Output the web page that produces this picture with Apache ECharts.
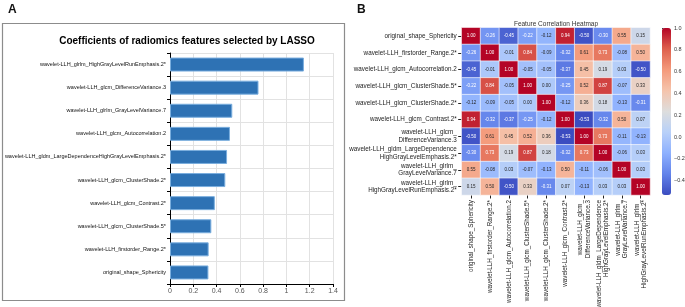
<!DOCTYPE html>
<html><head><meta charset="utf-8">
<script src="https://cdn.jsdelivr.net/npm/echarts@6.0.0/dist/echarts.min.js"></script>
<style>html,body{margin:0;padding:0;background:#fff}#c{width:685px;height:307px}</style>
</head><body><div id="c"></div>
<script>
// ---- Panel A data ----
const barFeatures = [
  'wavelet-LLH_glrlm_HighGrayLevelRunEmphasis.2*',
  'wavelet-LLH_glcm_DifferenceVariance.3',
  'wavelet-LLH_glrlm_GrayLevelVariance.7',
  'wavelet-LLH_glcm_Autocorrelation.2',
  'wavelet-LLH_gldm_LargeDependenceHighGrayLevelEmphasis.2*',
  'wavelet-LLH_glcm_ClusterShade.2*',
  'wavelet-LLH_glcm_Contrast.2*',
  'wavelet-LLH_glcm_ClusterShade.5*',
  'wavelet-LLH_firstorder_Range.2*',
  'original_shape_Sphericity'
];
const barValues = [1.15, 0.76, 0.535, 0.515, 0.49, 0.475, 0.385, 0.355, 0.332, 0.33];
const barTicks = [0, 0.2, 0.4, 0.6, 0.8, 1, 1.2, 1.4];

// ---- Panel B data ----
const heatLabels = [
  'original_shape_Sphericity',
  'wavelet-LLH_firstorder_Range.2*',
  'wavelet-LLH_glcm_Autocorrelation.2',
  'wavelet-LLH_glcm_ClusterShade.5*',
  'wavelet-LLH_glcm_ClusterShade.2*',
  'wavelet-LLH_glcm_Contrast.2*',
  'wavelet-LLH_glcm_\nDifferenceVariance.3',
  'wavelet-LLH_gldm_LargeDependence\nHighGrayLevelEmphasis.2*',
  'wavelet-LLH_glrlm_\nGrayLevelVariance.7',
  'wavelet-LLH_glrlm_\nHighGrayLevelRunEmphasis.2*'
];
const corrMatrix = [
  [ 1.00, -0.26, -0.45, -0.22, -0.12,  0.94, -0.50, -0.30,  0.55,  0.15],
  [-0.26,  1.00, -0.01,  0.84, -0.09, -0.32,  0.61,  0.73, -0.08,  0.50],
  [-0.45, -0.01,  1.00, -0.05, -0.05, -0.37,  0.45,  0.19,  0.03, -0.50],
  [-0.22,  0.84, -0.05,  1.00,  0.00, -0.25,  0.52,  0.87, -0.07,  0.33],
  [-0.12, -0.09, -0.05,  0.00,  1.00, -0.12,  0.36,  0.18, -0.13, -0.31],
  [ 0.94, -0.32, -0.37, -0.25, -0.12,  1.00, -0.53, -0.32,  0.50,  0.07],
  [-0.50,  0.61,  0.45,  0.52,  0.36, -0.53,  1.00,  0.73, -0.11, -0.13],
  [-0.30,  0.73,  0.19,  0.87,  0.18, -0.32,  0.73,  1.00, -0.06,  0.03],
  [ 0.55, -0.08,  0.03, -0.07, -0.13,  0.50, -0.11, -0.06,  1.00,  0.03],
  [ 0.15,  0.50, -0.50,  0.33, -0.31,  0.07, -0.13,  0.03,  0.03,  1.00]
];
const colorbarMin = -0.53;
const colorbarMax = 1.0;
const colorbarTicks = [-0.4, -0.2, 0, 0.2, 0.4, 0.6, 0.8, 1.0];

// coolwarm stops
const coolwarm = [[59,76,192],[98,130,234],[141,176,254],[184,208,249],[221,221,221],[245,196,172],[244,154,123],[222,96,77],[180,4,38]];
const cwHex = coolwarm.map(c => '#' + c.map(v => v.toString(16).padStart(2,'0')).join(''));
function cmap(v){
  let t = (v - colorbarMin) / (colorbarMax - colorbarMin);
  t = Math.max(0, Math.min(1, t)) * (coolwarm.length - 1);
  const i = Math.min(Math.floor(t), coolwarm.length - 2), f = t - i;
  return coolwarm[i].map((a, k) => a + (coolwarm[i+1][k] - a) * f);
}
function lum(rgb){
  const l = rgb.map(c => { c /= 255; return c <= 0.03928 ? c/12.92 : Math.pow((c+0.055)/1.055, 2.4); });
  return 0.2126*l[0] + 0.7152*l[1] + 0.0722*l[2];
}
const heatData = [];
corrMatrix.forEach((row, r) => row.forEach((v, c) => {
  heatData.push({ value: [c, r, v], label: { color: lum(cmap(v)) > 0.408 ? '#262626' : '#ffffff' } });
}));

const FF = '"Liberation Sans", Arial, sans-serif';
const chart = echarts.init(document.getElementById('c'), null, { renderer: 'canvas' });
chart.setOption({
  animation: false,
  backgroundColor: '#fff',
  graphic: [
    { type: 'rect', shape: { x: 2.5, y: 23.5, width: 342, height: 277 }, style: { fill: 'none', stroke: '#8c8c8c', lineWidth: 1.2 } },
    { type: 'text', x: 8, y: 4, style: { text: 'A', font: 'bold 12px ' + FF, fill: '#111' } },
    { type: 'text', x: 357, y: 4, style: { text: 'B', font: 'bold 12px ' + FF, fill: '#111' } },
    { type: 'text', x: 187, y: 36, style: { text: 'Coefficients of radiomics features selected by LASSO', font: 'bold 10px ' + FF, fill: '#000', textAlign: 'center', align: 'center' } },
    { type: 'text', x: 556, y: 20.5, style: { text: 'Feature Correlation Heatmap', font: '6.5px ' + FF, fill: '#333', textAlign: 'center', align: 'center' } }
  ],
  grid: [
    { left: 170, top: 53, width: 163, height: 231, outerBoundsMode: 'none' },
    { left: 461.7, top: 27.7, width: 188.3, height: 167.3, outerBoundsMode: 'none' },
    { left: 662, top: 28, width: 9, height: 152.6, outerBoundsMode: 'none' }
  ],
  xAxis: [
    { type: 'value', gridIndex: 0, min: barTicks[0], max: barTicks[barTicks.length-1], interval: 0.2,
      axisLine: { show: true, lineStyle: { color: '#000', width: 1 } },
      axisTick: { show: true, length: 3, lineStyle: { color: '#000' } },
      axisLabel: { fontSize: 7, color: '#555', fontFamily: FF, margin: 4 },
      splitLine: { show: true, lineStyle: { color: '#e2e2e2', width: 1 } } },
    { type: 'category', gridIndex: 1, data: heatLabels, position: 'bottom',
      axisLine: { show: false },
      axisTick: { show: true, alignWithLabel: true, length: 3.5, lineStyle: { color: '#222' } },
      axisLabel: { rotate: 90, interval: 0, fontSize: 6.3, lineHeight: 7.5, color: '#222', fontFamily: FF, margin: 5 },
      splitLine: { show: false } },
    { type: 'value', gridIndex: 2, show: false, min: 0, max: 1 }
  ],
  yAxis: [
    { type: 'category', gridIndex: 0, data: barFeatures, inverse: true,
      axisLine: { show: true, lineStyle: { color: '#000', width: 1 } },
      axisTick: { show: true, length: 3, lineStyle: { color: '#000' } },
      axisLabel: { fontSize: 5.5, color: '#111', fontFamily: FF, margin: 4, interval: 0 },
      splitLine: { show: true, lineStyle: { color: '#e2e2e2', width: 1 } } },
    { type: 'category', gridIndex: 1, data: heatLabels, inverse: true,
      axisLine: { show: false },
      axisTick: { show: true, alignWithLabel: true, length: 3.5, lineStyle: { color: '#222' } },
      axisLabel: { fontSize: 6.3, lineHeight: 7.5, color: '#222', fontFamily: FF, margin: 5, interval: 0 },
      splitLine: { show: false } },
    { type: 'value', gridIndex: 2, position: 'right', min: colorbarTicks[0], max: colorbarTicks[colorbarTicks.length-1], interval: 0.2,
      axisLine: { show: false },
      axisTick: { show: true, length: 2.5, lineStyle: { color: '#333' } },
      axisLabel: { fontSize: 5.5, color: '#333', fontFamily: FF, margin: 3,
        formatter: v => Math.abs(v) < 1e-9 ? '0.0' : (v < 0 ? '\u2212' : '') + Math.abs(v).toFixed(1) },
      splitLine: { show: false } }
  ],
  visualMap: {
    type: 'continuous', min: colorbarMin, max: colorbarMax, calculable: false, seriesIndex: 1,
    left: 662, top: 28, itemWidth: 9, itemHeight: 167, padding: 0, text: null,
    showLabel: false, inRange: { color: cwHex }, orient: 'vertical'
  },
  series: [
    { type: 'bar', xAxisIndex: 0, yAxisIndex: 0, data: barValues, barWidth: 14,
      itemStyle: { color: '#2e72b4', borderColor: '#7aaede', borderWidth: 1 } },
    { type: 'heatmap', xAxisIndex: 1, yAxisIndex: 1, data: heatData,
      itemStyle: { borderColor: '#ffffff', borderWidth: 0.6 },
      label: { show: true, fontSize: 4.5, fontFamily: FF, formatter: p => p.value[2].toFixed(2) } }
  ]
});
</script></body></html>
